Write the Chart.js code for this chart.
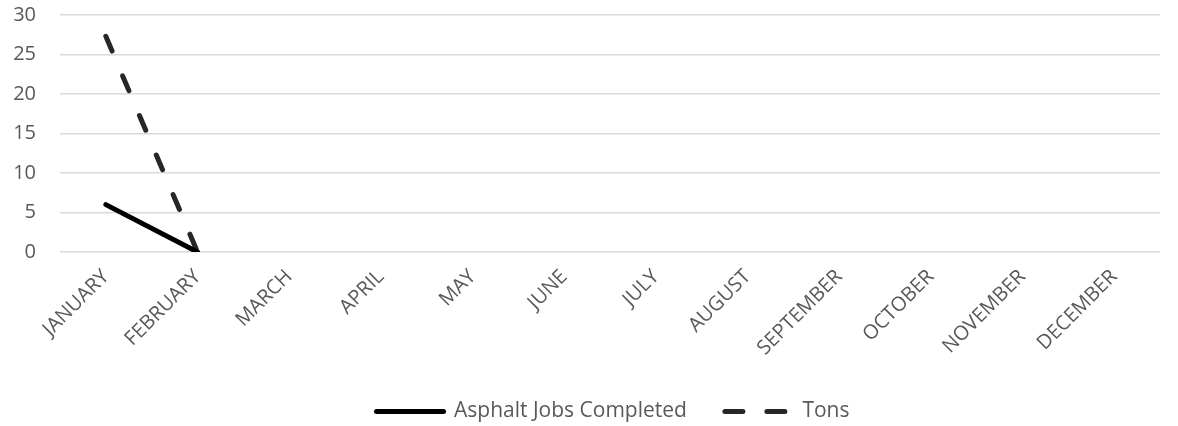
<!DOCTYPE html>
<html>
<head>
<meta charset="utf-8">
<script src="https://cdn.jsdelivr.net/npm/chart.js@4.4.1/dist/chart.umd.min.js"></script>
<style>
  html, body { margin: 0; padding: 0; background: #ffffff; }
  #wrap { width: 1178px; height: 426px; position: relative; }
</style>
</head>
<body>
<div id="wrap"><canvas id="chart"></canvas></div>
<script>
const months = ["JANUARY", "FEBRUARY", "MARCH", "APRIL", "MAY", "JUNE", "JULY", "AUGUST", "SEPTEMBER", "OCTOBER", "NOVEMBER", "DECEMBER"];
const jobsCompleted = [6, 0, null, null, null, null, null, null, null, null, null, null];
const tons = [27.3, 0, null, null, null, null, null, null, null, null, null, null];
const yTicks = [0, 5, 10, 15, 20, 25, 30];

const textColor = "#595959";
const fontFamily = "'Open Sans', 'Liberation Sans', sans-serif";

// legend swatches: solid / dashed line like the series
function legendLabels(chart) {
  const base = Chart.defaults.plugins.legend.labels.generateLabels(chart);
  return base.map((item) => {
    const ds = chart.data.datasets[item.datasetIndex];
    return {
      ...item,
      lineDash: ds.borderDash ? [18, 24] : [],
      lineCap: "round",
      lineWidth: ds.borderWidth,
      strokeStyle: ds.borderColor
    };
  });
}

// legend sits a bit right of the canvas centre, under the plot area
const legendShift = {
  id: "legendShift",
  afterLayout(chart) {
    if (chart.legend) {
      chart.legend.left += 33;
      chart.legend.right += 33;
    }
  }
};

new Chart(document.getElementById("chart"), {
  type: "line",
  data: {
    labels: months,
    datasets: [
      {
        label: "Asphalt Jobs Completed",
        data: jobsCompleted,
        borderColor: "#000000",
        backgroundColor: "#000000",
        borderWidth: 5,
        borderCapStyle: "round",
        pointRadius: 0,
        pointStyle: "line",
        tension: 0
      },
      {
        label: "Tons",
        data: tons,
        borderColor: "#262626",
        backgroundColor: "#262626",
        borderWidth: 5,
        borderDash: [16, 27],
        borderCapStyle: "round",
        pointRadius: 0,
        pointStyle: "line",
        tension: 0
      }
    ]
  },
  plugins: [legendShift],
  options: {
    responsive: true,
    maintainAspectRatio: false,
    animation: false,
    layout: {
      padding: { top: 15, right: 18, left: 0, bottom: -6 }
    },
    plugins: {
      tooltip: { enabled: false },
      legend: {
        position: "bottom",
        labels: {
          usePointStyle: true,
          pointStyleWidth: 67,
          padding: 38,
          color: textColor,
          font: { family: fontFamily, size: 21 },
          generateLabels: legendLabels
        }
      }
    },
    scales: {
      x: {
        offset: true,
        grid: { display: false },
        border: { display: false },
        afterFit: (axis) => {
          axis.paddingLeft = 0;
          axis.paddingRight = 0;
          axis.height = 111;
        },
        ticks: {
          color: textColor,
          font: { family: fontFamily, size: 20 },
          maxRotation: 45,
          minRotation: 45,
          autoSkip: false,
          padding: 5
        }
      },
      y: {
        min: 0,
        max: 30,
        afterBuildTicks: (axis) => {
          axis.ticks = yTicks.map((v) => ({ value: v }));
        },
        afterFit: (axis) => {
          axis.width = 60;
          axis.paddingTop = 0;
          axis.paddingBottom = 0;
        },
        grid: { color: "#d9d9d9", lineWidth: 1.5, drawTicks: false },
        border: { display: false },
        ticks: {
          color: textColor,
          font: { family: fontFamily, size: 20 },
          padding: 24
        }
      }
    }
  }
});
</script>
</body>
</html>
